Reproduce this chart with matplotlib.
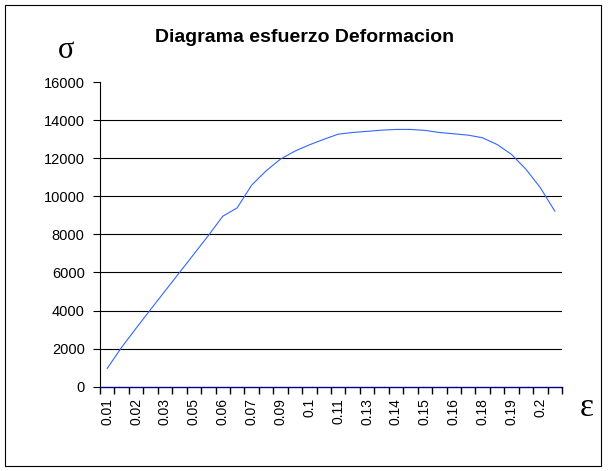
import numpy as np
import matplotlib.pyplot as plt
from matplotlib.patches import Rectangle

plt.rcParams['font.family'] = ['Liberation Sans', 'DejaVu Sans']

# esfuerzo por categoria (32 puntos de deformacion)
stress = [960, 2070, 3070, 4050, 5020, 5990, 6960, 7930, 8950, 9390,
          10580, 11330, 11950, 12370, 12700, 12990, 13260, 13350, 13410, 13470,
          13510, 13510, 13460, 13350, 13280, 13210, 13070, 12720, 12200, 11420,
          10450, 9220]
# etiquetas visibles (una de cada dos categorias)
strainLabels = ['0.01', '0.02', '0.03', '0.05', '0.06', '0.07', '0.09', '0.1',
                '0.11', '0.13', '0.14', '0.15', '0.16', '0.18', '0.19', '0.2']
yTicks = [0, 2000, 4000, 6000, 8000, 10000, 12000, 14000, 16000]

W, H = 608, 471
fig = plt.figure(figsize=(W / 100, H / 100), dpi=100)
ax = fig.add_axes([100 / W, 1 - 386.7 / H, 462 / W, (386.7 - 82) / H])

nCat = len(stress)
xCat = np.arange(nCat)
ax.plot(xCat, stress, color='#3366FF', linewidth=0.8)

ax.set_xlim(-0.5, nCat - 0.5)
ax.set_ylim(0, 16000)

# eje x: marcas en los limites de categoria, etiquetas en categorias pares
ax.set_xticks(xCat[::2])
ax.set_xticklabels(strainLabels, rotation=90, fontsize=10)
ax.set_xticks(np.arange(nCat + 1) - 0.5, minor=True)
ax.tick_params(axis='x', which='major', length=0, pad=8)
ax.tick_params(axis='x', which='minor', length=5, width=1.0, direction='out', color='black')

ax.set_yticks(yTicks)
ax.set_yticklabels([str(v) for v in yTicks], fontsize=10.5)
ax.tick_params(axis='y', length=5, width=0.8, direction='out', pad=6)

for v in yTicks[1:-1]:
    ax.axhline(v, color='black', linewidth=0.8, zorder=0)

ax.spines['top'].set_visible(False)
ax.spines['right'].set_visible(False)
ax.spines['left'].set_linewidth(0.8)
ax.spines['bottom'].set_color('#000080')
ax.spines['bottom'].set_linewidth(1.0)

fig.text(305 / W, 1 - 37 / H, 'Diagrama esfuerzo Deformacion', ha='center', va='center',
         fontsize=14, fontweight='bold')
fig.text(66 / W, 1 - 50 / H, 'σ', ha='center', va='center', fontsize=22,
         family=['Liberation Serif', 'DejaVu Serif'])
fig.text(587 / W, 1 - 408 / H, 'ε', ha='center', va='center', fontsize=24,
         family=['Liberation Serif', 'DejaVu Serif'])

fig.patches.append(Rectangle((5 / W, 1 - 466 / H), 596 / W, 461 / H, transform=fig.transFigure,
                             fill=False, edgecolor='black', linewidth=0.8))

fig.savefig('out.png', dpi=100)
